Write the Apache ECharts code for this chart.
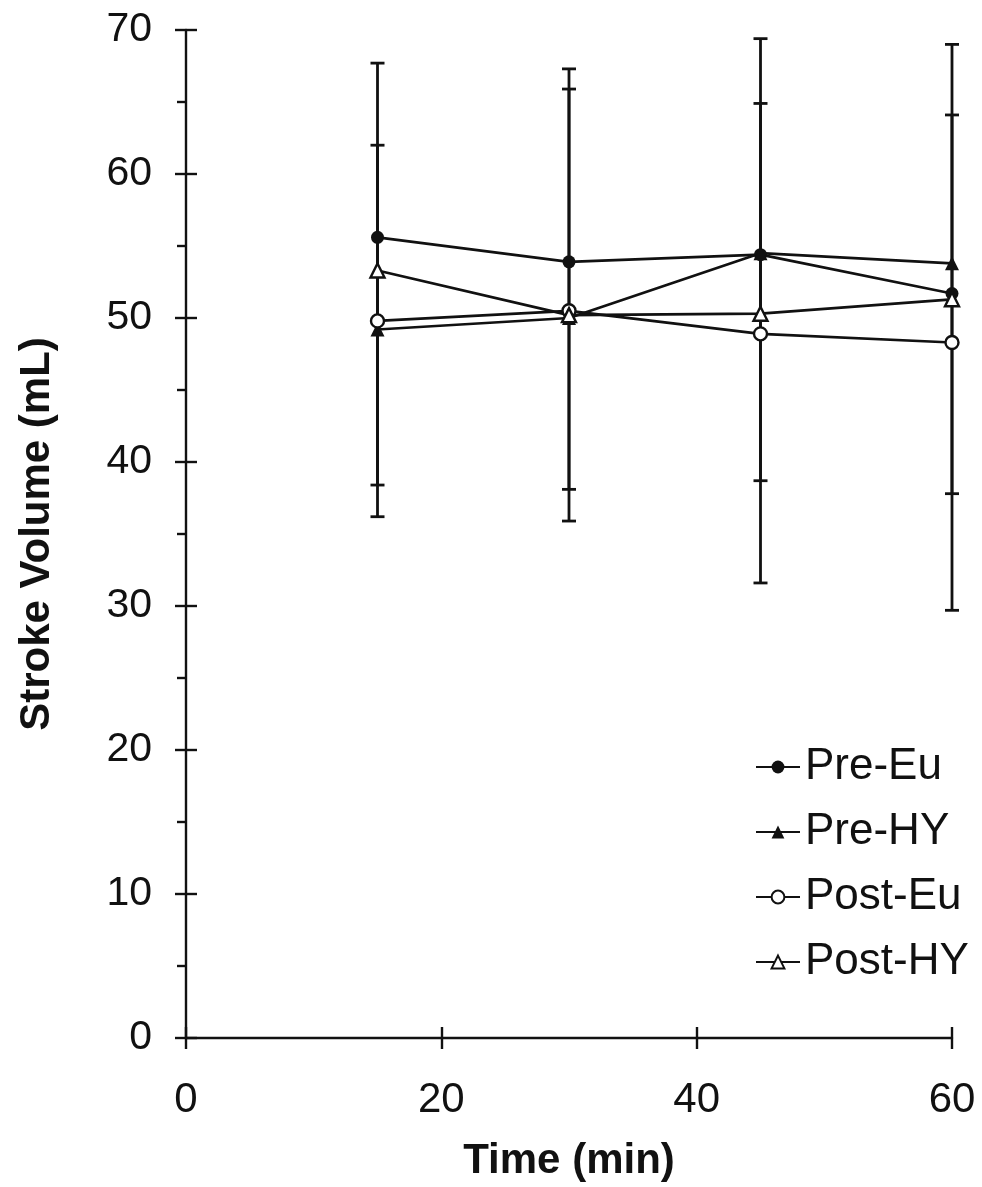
<!DOCTYPE html>
<html>
<head>
<meta charset="utf-8">
<script src="https://cdn.jsdelivr.net/npm/echarts@6/dist/echarts.min.js"></script>
<style>
  html, body { margin: 0; padding: 0; background: #fff; }
  #chart { width: 982px; height: 1187px; }
</style>
</head>
<body>
<div id="chart"></div>
<script>
// Sampling times (min)
const times = [15, 30, 45, 60];

// Mean stroke volume (mL) per group
const preEu  = [55.6, 53.9, 54.4, 51.7];
const preHY  = [49.2, 50.0, 54.5, 53.8];
const postEu = [49.8, 50.5, 48.9, 48.3];
const postHY = [53.3, 50.2, 50.3, 51.3];

// Whisker ends at each time point (outer and inner pairs)
const outerLow  = [36.2, 35.9, 31.6, 29.7];
const outerHigh = [67.7, 67.3, 69.4, 69.0];
const innerLow  = [38.4, 38.1, 38.7, 37.8];
const innerHigh = [62.0, 65.9, 64.9, 64.1];

// Axis ticks
const xTicks = [0, 20, 40, 60];
const yTicks = [0, 10, 20, 30, 40, 50, 60, 70];

const FONT = 'Liberation Sans, Arial, Helvetica, sans-serif';
const INK = '#111';

const pairs = (ys) => times.map((t, i) => [t, ys[i]]);
const whiskers = [];
times.forEach((t, i) => {
  whiskers.push([t, outerLow[i], outerHigh[i]]);
  whiskers.push([t, innerLow[i], innerHigh[i]]);
});

function renderWhisker(params, api) {
  const x = api.value(0);
  const lo = api.coord([x, api.value(1)]);
  const hi = api.coord([x, api.value(2)]);
  const half = 7;
  const style = { stroke: INK, lineWidth: 2.8 };
  return {
    type: 'group',
    children: [
      { type: 'line', shape: { x1: lo[0], y1: lo[1], x2: hi[0], y2: hi[1] }, style },
      { type: 'line', shape: { x1: hi[0] - half, y1: hi[1], x2: hi[0] + half, y2: hi[1] }, style },
      { type: 'line', shape: { x1: lo[0] - half, y1: lo[1], x2: lo[0] + half, y2: lo[1] }, style }
    ]
  };
}

function lineSeries(name, data, symbol, filled) {
  return {
    name,
    type: 'line',
    data: pairs(data),
    symbol,
    symbolSize: symbol === 'circle' ? 13 : 14,
    z: 5,
    lineStyle: { color: INK, width: 2.7 },
    itemStyle: {
      color: filled ? INK : '#fff',
      borderColor: INK,
      borderWidth: filled ? 0 : 2.4
    },
    emphasis: { disabled: true }
  };
}

const tickStyle = { color: INK, width: 2.4 };

const chart = echarts.init(document.getElementById('chart'), null, { renderer: 'canvas' });
chart.setOption({
  animation: false,
  backgroundColor: '#fff',
  grid: { left: 186, right: 30, top: 30, bottom: 147, containLabel: false },
  legend: {
    orient: 'vertical',
    left: 750,
    top: 740,
    itemWidth: 44,
    itemHeight: 16,
    itemGap: 21,
    textStyle: { fontFamily: FONT, fontSize: 44, color: INK, lineHeight: 44 },
    data: ['Pre-Eu', 'Pre-HY', 'Post-Eu', 'Post-HY']
  },
  xAxis: [
    {
      type: 'value', min: 0, max: 60, interval: 20, position: 'bottom',
      name: 'Time (min)', nameLocation: 'middle', nameGap: 102,
      nameTextStyle: { fontFamily: FONT, fontSize: 42, fontWeight: 'bold', color: INK },
      axisLine: { lineStyle: { color: INK, width: 2.4 } },
      axisTick: { show: true, inside: false, length: 11, lineStyle: tickStyle },
      axisLabel: { margin: 41, fontFamily: FONT, fontSize: 42, color: INK,
                   formatter: (v) => xTicks.includes(v) ? String(v) : '' },
      splitLine: { show: false }
    },
    {
      type: 'value', min: 0, max: 60, interval: 20, position: 'bottom',
      axisLine: { show: false },
      axisTick: { show: true, inside: true, length: 11, lineStyle: tickStyle },
      axisLabel: { show: false },
      splitLine: { show: false }
    }
  ],
  yAxis: [
    {
      type: 'value', min: 0, max: 70, interval: 10, position: 'left',
      name: 'Stroke Volume (mL)', nameLocation: 'middle', nameGap: 128,
      nameTextStyle: { fontFamily: FONT, fontSize: 42, fontWeight: 'bold', color: INK },
      axisLine: { show: true, lineStyle: { color: INK, width: 2.4 } },
      axisTick: { show: true, inside: false, length: 11, lineStyle: tickStyle },
      minorTick: { show: true, splitNumber: 2, length: 9, lineStyle: tickStyle },
      axisLabel: { margin: 34, fontFamily: FONT, fontSize: 41, color: INK,
                   formatter: (v) => yTicks.includes(v) ? String(v) : '' },
      splitLine: { show: false }
    },
    {
      type: 'value', min: 0, max: 70, interval: 10, position: 'left',
      axisLine: { show: false },
      axisTick: { show: true, inside: true, length: 11, lineStyle: tickStyle },
      axisLabel: { show: false },
      splitLine: { show: false }
    }
  ],
  series: [
    {
      type: 'custom',
      name: 'whiskers',
      data: whiskers,
      renderItem: renderWhisker,
      z: 2,
      silent: true
    },
    lineSeries('Pre-Eu', preEu, 'circle', true),
    lineSeries('Pre-HY', preHY, 'triangle', true),
    lineSeries('Post-Eu', postEu, 'circle', false),
    lineSeries('Post-HY', postHY, 'triangle', false)
  ]
});
</script>
</body>
</html>
